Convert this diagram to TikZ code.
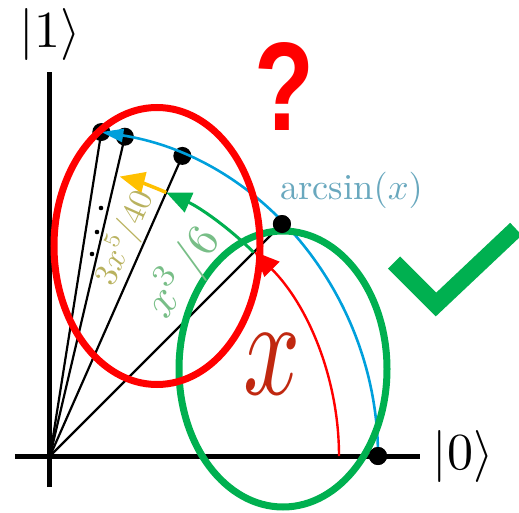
\documentclass[tikz,border=0pt]{standalone}
\usepackage{fontspec}
\newfontfamily\qfont{Liberation Sans}
\usetikzlibrary{arrows.meta}
\definecolor{cred}{RGB}{255,0,0}
\definecolor{cgreen}{RGB}{0,176,80}
\definecolor{cyellow}{RGB}{255,192,0}
\definecolor{cblue}{RGB}{0,160,220}
\definecolor{xred}{RGB}{192,40,16}
\definecolor{arcc}{RGB}{105,168,190}
\definecolor{gtext}{RGB}{120,190,135}
\definecolor{ytext}{RGB}{185,178,95}
\tikzset{
  axisline/.style={line width=5pt},
  ray/.style={line width=2.2pt},
  dotnode/.style={circle, fill=black, inner sep=0pt, minimum size=18pt},
  smalldot/.style={circle, fill=black, inner sep=0pt, minimum size=4.6pt},
  ell/.style={line width=7pt},
  lbl/.style={inner sep=0pt},
  arrowarc/.style={line width=#1, -{Triangle[length=25pt,width=21pt]}},
}
\begin{document}
\begin{tikzpicture}[x=1pt,y=1pt]
\useasboundingbox (-50,-56) rectangle (469,456);
\coordinate (O) at (0,0);
\coordinate (xa1) at (-35,0);
\coordinate (xa2) at (370,0);
\coordinate (ya1) at (0,-31);
\coordinate (ya2) at (0,384);
% axes
\draw[axisline] (xa1) -- (xa2);
\draw[axisline] (ya1) -- (ya2);
% dots (positions)
\node[dotnode] (d0) at (0:328) {};
\node[dotnode] (d1) at (45:328) {};
\node[dotnode] (d2) at (66.2:328) {};
\node[dotnode] (d3) at (76.8:328) {};
\node[dotnode] (d4) at (81:328) {};
% rays
\draw[ray] (O) -- (d1.center);
\draw[ray] (O) -- (d2.center);
\draw[ray] (O) -- (d3.center);
\draw[ray] (O) -- (d4.center);
% ellipsis dots
\node[smalldot] (e1) at (51,248) {};
\node[smalldot] (e2) at (47,224) {};
\node[smalldot] (e3) at (42,202) {};
% arcs
\draw[cblue, line width=2.6pt, -{Triangle[length=22pt,width=13pt]}] (d0.center) arc[start angle=0, end angle=81, radius=328pt];
\draw[cred, arrowarc=2.4pt] (0:289) arc[start angle=0, end angle=45, radius=289pt];
\draw[cgreen, arrowarc=3pt] (45:288) arc[start angle=45, end angle=66.2, radius=288pt];
\draw[cyellow, arrowarc=3.5pt] (66.2:288) arc[start angle=66.2, end angle=76, radius=288pt];
% green ellipse
\draw[cgreen, ell] (233,87) ellipse[x radius=104pt, y radius=138pt];
% redraw dots on top
\node[dotnode] at (d0) {};
\node[dotnode] at (d1) {};
% red ellipse
\draw[cred, ell] (107,210) ellipse[x radius=103pt, y radius=138.5pt];
% labels
\node[lbl, scale=5.2] (ket1) at (0,421) {$|1\rangle$};
\node[lbl, scale=5.2] (ket0) at (413,-0.5) {$|0\rangle$};
\node[lbl, scale=3.65, text=arcc] (arcs) at (301.5,265.5) {$\arcsin(x)$};
\node[lbl, xscale=10, yscale=14, text=xred] (xl) at (222.5,92) {$x$};
\node[lbl, rotate=56, scale=4.6, text=gtext] (gl) at (133,183) {$x^{3}\mkern2mu/6$};
\node[lbl, rotate=66, scale=3.3, text=ytext] (yl) at (74.6,218.2) {$3x^{5}/40$};
\node[lbl, xscale=9.8, yscale=12.6, text=cred] (q) at (234,369.5) {\qfont\bfseries ?};
% check mark
\coordinate (c1) at (344,193.5);
\coordinate (c2) at (386,151.5);
\coordinate (c3) at (466,227);
\draw[cgreen, line width=17pt, miter limit=10] (c1) -- (c2) -- (c3);
\end{tikzpicture}
\end{document}
